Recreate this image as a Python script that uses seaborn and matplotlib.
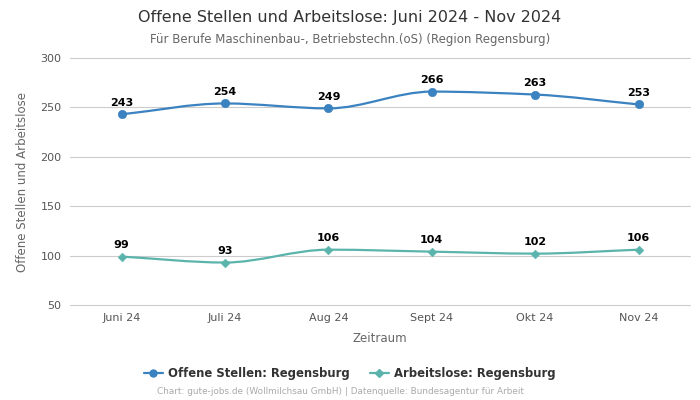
import numpy as np
import pandas as pd
import matplotlib
matplotlib.use("Agg")
import matplotlib.pyplot as plt
import seaborn as sns
from matplotlib.path import Path
from matplotlib.patches import PathPatch
from matplotlib.lines import Line2D

months = ["Juni 24", "Juli 24", "Aug 24", "Sept 24", "Okt 24", "Nov 24"]
offene = [243, 254, 249, 266, 263, 253]
arbeitslose = [99, 93, 106, 104, 102, 106]
series_names = ["Offene Stellen: Regensburg", "Arbeitslose: Regensburg"]
colors = ["#3a82c0", "#5ab4ac"]
markers = ["o", "D"]

sns.set_theme(style="white")
plt.rcParams['font.family'] = ['DejaVu Sans']

df = pd.DataFrame({
    "Zeitraum": list(range(len(months))) * 2,
    "Wert": offene + arbeitslose,
    "Serie": [series_names[0]] * len(months) + [series_names[1]] * len(months),
})

fig = plt.figure(figsize=(7, 4), dpi=100)
ax = fig.add_axes([0.1, 0.2375, 0.886, 0.6175])


def monotone_path(xs, ys):
    xs = np.asarray(xs, float); ys = np.asarray(ys, float)
    n = len(xs)
    h = np.diff(xs); d = np.diff(ys) / h
    m = np.zeros(n)
    m[0] = d[0]; m[-1] = d[-1]
    for i in range(1, n - 1):
        if d[i - 1] * d[i] <= 0:
            m[i] = 0
        else:
            w1 = 2 * h[i] + h[i - 1]; w2 = h[i] + 2 * h[i - 1]
            m[i] = (w1 + w2) / (w1 / d[i - 1] + w2 / d[i])
    verts = [(xs[0], ys[0])]; codes = [Path.MOVETO]
    for i in range(n - 1):
        dx = h[i] / 3
        verts += [(xs[i] + dx, ys[i] + m[i] * dx), (xs[i + 1] - dx, ys[i + 1] - m[i + 1] * dx), (xs[i + 1], ys[i + 1])]
        codes += [Path.CURVE4] * 3
    return Path(verts, codes)


for name, col, mk, vals in zip(series_names, colors, markers, [offene, arbeitslose]):
    sub = df[df["Serie"] == name]
    ax.add_patch(PathPatch(monotone_path(sub["Zeitraum"], sub["Wert"]), facecolor="none",
                           edgecolor=col, lw=1.6, zorder=2))
    sns.scatterplot(data=sub, x="Zeitraum", y="Wert", color=col, marker=mk,
                    s=36 if mk == "o" else 20, edgecolor=col, ax=ax, zorder=3, legend=False)
    for x, v in zip(sub["Zeitraum"], sub["Wert"]):
        ax.annotate(str(v), (x, v), xytext=(0, 4.5), textcoords="offset points", ha="center",
                    va="bottom", fontsize=8, fontweight="bold", color="black")

ax.set_xlim(-0.5, len(months) - 0.5)
ax.set_ylim(50, 300)
ax.set_yticks([50, 100, 150, 200, 250, 300])
ax.set_xticks(range(len(months)))
ax.set_xticklabels(months)
ax.tick_params(axis="both", labelsize=8, colors="#555555", length=0, pad=6)
ax.grid(axis="y", color="#cccccc", lw=0.8)
for gl in ax.get_ygridlines():
    gl.set_clip_on(False)
ax.set_axisbelow(True)
for s in ax.spines.values():
    s.set_visible(False)
ax.set_xlabel("Zeitraum", fontsize=8.5, color="#666666", labelpad=6)
ax.set_ylabel("Offene Stellen und Arbeitslose", fontsize=8.5, color="#666666", labelpad=8)

fig.text(0.5, 0.957, "Offene Stellen und Arbeitslose: Juni 2024 - Nov 2024", ha="center", va="center",
         fontsize=11.5, color="#333333")
fig.text(0.5, 0.902, "Für Berufe Maschinenbau-, Betriebstechn.(oS) (Region Regensburg)", ha="center",
         va="center", fontsize=8.5, color="#666666")

handles = [Line2D([], [], color=c, marker=m, markersize=5 if m == "o" else 4, lw=1.6) for c, m in zip(colors, markers)]
leg = fig.legend(handles, series_names, loc="center", bbox_to_anchor=(0.5, 0.067), ncol=2, frameon=False,
                 prop={"size": 8.4, "weight": "bold"}, handlelength=1.6, columnspacing=1.7, handletextpad=0.5)
for t in leg.get_texts():
    t.set_color("#333333")
fig.text(0.486, 0.02, "Chart: gute-jobs.de (Wollmilchsau GmbH) | Datenquelle: Bundesagentur für Arbeit",
         ha="center", va="center", fontsize=6.4, color="#aaaaaa")

fig.savefig("out.png", dpi=100)
